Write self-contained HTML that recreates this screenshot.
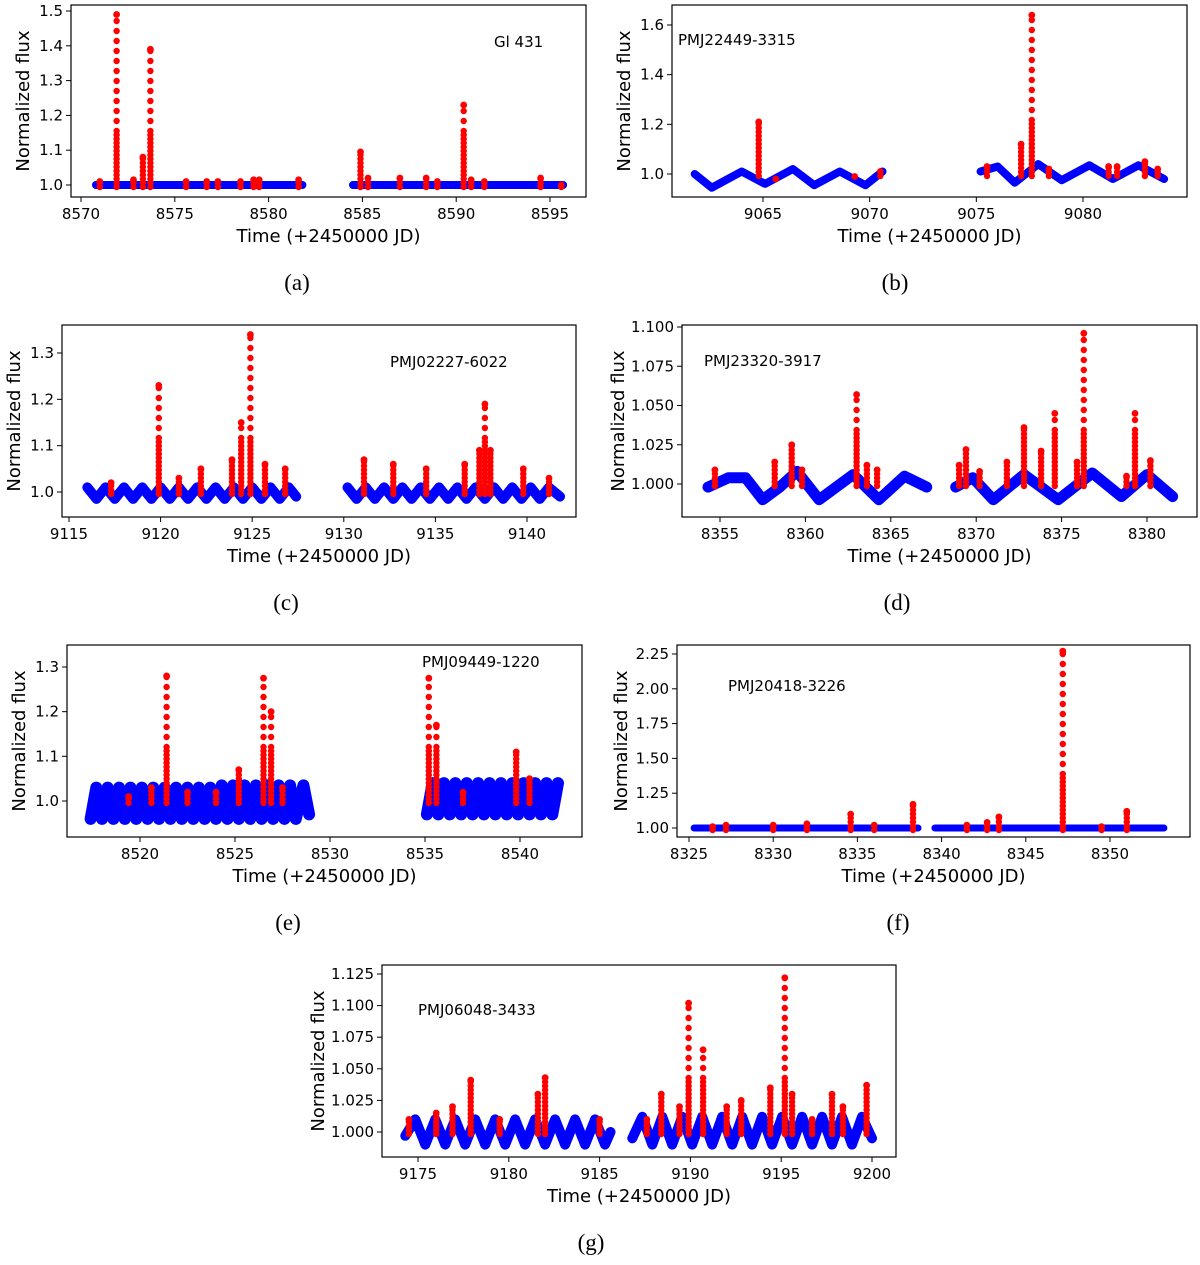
<!DOCTYPE html>
<html><head><meta charset="utf-8"><style>
body{margin:0;background:#fff;width:1200px;height:1260px;overflow:hidden}
svg text{font-family:"DejaVu Sans","Liberation Sans",sans-serif}
</style></head><body>
<svg id="fig" width="1200" height="1260" xmlns="http://www.w3.org/2000/svg"></svg>
<script>
// ---- data ----
const aFlares=[[8571.9,1.49],[8573.3,1.08],[8573.7,1.39],[8584.9,1.095],[8590.4,1.23],[8571,1.01],[8572.8,1.015],[8575.6,1.01],[8576.7,1.01],[8577.3,1.01],[8578.5,1.01],[8579.2,1.015],[8579.5,1.015],[8581.6,1.015],[8585.3,1.02],[8587,1.02],[8588.4,1.02],[8589,1.01],[8590.8,1.015],[8591.5,1.01],[8594.5,1.02],[8595.6,1.0]];
const aBlueT=[8570.8,8581.8,null,8584.5,8595.7];
const aBlueV=[1.0,1.0,null,1.0,1.0];
const bFlares=[[9064.8,1.21],[9077.6,1.64],[9075.5,1.03],[9077.1,1.12],[9078.4,1.02],[9081.2,1.03],[9081.6,1.03],[9082.9,1.05],[9083.5,1.02],[9069.3,0.99],[9065.6,0.98],[9070.5,1.01]];
const bBlueT=[9061.8,9062.6,9064.0,9065.1,9066.4,9067.4,9068.6,9069.8,9070.6,null,9075.2,9076.0,9076.8,9077.9,9079.0,9080.3,9081.4,9082.6,9083.8];
const bBlueV=[1.0,0.945,1.01,0.96,1.02,0.955,1.01,0.955,1.01,null,1.01,1.03,0.965,1.04,0.975,1.035,0.98,1.035,0.98];
const cFlares=[[9117.3,1.02],[9119.9,1.23],[9121,1.03],[9122.2,1.05],[9123.9,1.07],[9124.4,1.15],[9124.9,1.34],[9125.7,1.06],[9126.8,1.05],[9131.1,1.07],[9132.7,1.06],[9134.5,1.05],[9136.6,1.06],[9137.4,1.09],[9137.7,1.19],[9138,1.09],[9139.8,1.05],[9141.2,1.03]];
const cBlueT=[9116,9116.5,9117,9117.5,9118,9118.5,9119,9119.5,9120,9120.5,9121,9121.5,9122,9122.5,9123,9123.5,9124,9124.5,9125,9125.5,9126,9126.5,9127,9127.4,null,9130.2,9130.7,9131.2,9131.7,9132.2,9132.7,9133.2,9133.7,9134.2,9134.7,9135.2,9135.7,9136.2,9136.7,9137.2,9137.7,9138.2,9138.7,9139.2,9139.7,9140.2,9140.7,9141.2,9141.8];
const cBlueV=[1.01,0.985,1.01,0.985,1.01,0.985,1.01,0.985,1.01,0.985,1.01,0.985,1.01,0.985,1.01,0.985,1.01,0.985,1.01,0.985,1.01,0.985,1.01,0.99,null,1.01,0.985,1.01,0.985,1.01,0.985,1.01,0.985,1.01,0.985,1.01,0.985,1.01,0.985,1.01,0.985,1.01,0.985,1.01,0.985,1.01,0.985,1.01,0.99];
const dFlares=[[8354.7,1.009],[8358.2,1.014],[8359.2,1.025],[8359.8,1.009],[8363,1.057],[8363.6,1.012],[8364.2,1.009],[8369,1.012],[8369.4,1.022],[8370.2,1.008],[8371.8,1.014],[8372.8,1.036],[8373.8,1.021],[8374.6,1.045],[8375.9,1.014],[8376.3,1.096],[8378.8,1.005],[8379.3,1.045],[8380.2,1.015]];
const dBlueT=[8354.3,8355.5,8356.5,8357.5,8358.5,8359.5,8360.8,8362.8,8364.3,8365.8,8367.1,null,8368.8,8369.8,8371,8372.8,8374.8,8376.8,8378.5,8380,8381.5];
const dBlueV=[0.998,1.004,1.004,0.99,0.998,1.008,0.99,1.006,0.99,1.005,0.998,null,0.998,1.004,0.99,1.006,0.99,1.007,0.992,1.006,0.992];
const eFlares=[[8519.4,1.01],[8520.6,1.03],[8521.4,1.28],[8522.5,1.02],[8524,1.02],[8525.2,1.07],[8526.5,1.275],[8526.9,1.2],[8527.5,1.03],[8535.2,1.275],[8535.6,1.17],[8537,1.02],[8539.8,1.11],[8540.5,1.05]];
const eBlueT=[8517.4,8517.7,8518,8518.3,8518.6,8518.9,8519.2,8519.5,8519.8,8520.1,8520.4,8520.7,8521,8521.3,8521.6,8521.9,8522.2,8522.5,8522.8,8523.1,8523.4,8523.7,8524,8524.3,8524.6,8524.9,8525.2,8525.5,8525.8,8526.1,8526.4,8526.7,8527,8527.3,8527.6,8527.9,8528.2,8528.6,8528.9,null,8535.1,8535.4,8535.7,8536,8536.3,8536.6,8536.9,8537.2,8537.5,8537.8,8538.1,8538.4,8538.7,8539,8539.3,8539.6,8539.9,8540.2,8540.5,8540.8,8541.1,8541.4,8541.7,8542];
const eBlueV=[0.96,1.03,0.96,1.03,0.96,1.03,0.96,1.03,0.96,1.03,0.96,1.03,0.96,1.03,0.96,1.03,0.96,1.03,0.96,1.03,0.96,1.03,0.96,1.035,0.96,1.035,0.96,1.035,0.96,1.035,0.96,1.035,0.96,1.035,0.96,1.035,0.96,1.035,0.97,null,0.97,1.04,0.97,1.04,0.97,1.04,0.97,1.04,0.97,1.04,0.97,1.04,0.97,1.04,0.97,1.04,0.97,1.04,0.97,1.04,0.97,1.04,0.97,1.04,0.98];
const fFlares=[[8347.2,2.27],[8338.3,1.17],[8334.6,1.1],[8343.4,1.08],[8351,1.12],[8326.4,1.01],[8327.2,1.02],[8330,1.02],[8332,1.03],[8336,1.02],[8341.5,1.02],[8342.7,1.04],[8349.5,1.01]];
const fBlueT=[8325.3,8338.6,null,8339.6,8353.2];
const fBlueV=[1.0,1.0,null,1.0,1.0];
const gFlares=[[9174.5,1.01],[9176,1.015],[9176.9,1.02],[9177.9,1.041],[9179.5,1.01],[9181.6,1.03],[9182,1.043],[9185,1.01],[9187.6,1.01],[9188.4,1.03],[9189.4,1.02],[9189.9,1.102],[9190.7,1.065],[9192,1.02],[9192.8,1.025],[9194.4,1.035],[9195.2,1.122],[9195.6,1.03],[9196.7,1.01],[9197.8,1.03],[9198.4,1.02],[9199.7,1.037]];
const gBlueT=[9174.3,9174.85,9175.4,9175.95,9176.5,9177.05,9177.6,9178.15,9178.7,9179.25,9179.8,9180.35,9180.9,9181.45,9182,9182.55,9183.1,9183.65,9184.2,9184.75,9185.3,9185.6,null,9186.8,9187.35,9187.9,9188.45,9189,9189.55,9190.1,9190.65,9191.2,9191.75,9192.3,9192.85,9193.4,9193.95,9194.5,9195.05,9195.6,9196.15,9196.7,9197.25,9197.8,9198.35,9198.9,9199.45,9200];
const gBlueV=[0.997,1.01,0.99,1.01,0.99,1.01,0.99,1.01,0.99,1.01,0.99,1.01,0.99,1.01,0.99,1.01,0.99,1.01,0.99,1.01,0.99,1.0,null,0.995,1.012,0.99,1.012,0.99,1.012,0.99,1.012,0.99,1.012,0.99,1.012,0.99,1.012,0.99,1.012,0.99,1.012,0.99,1.012,0.99,1.012,0.99,1.012,0.995];
const aXTicks=[8570,8575,8580,8585,8590,8595], aYTicks=[1.0,1.1,1.2,1.3,1.4,1.5];
const bXTicks=[9065,9070,9075,9080], bYTicks=[1.0,1.2,1.4,1.6];
const cXTicks=[9115,9120,9125,9130,9135,9140], cYTicks=[1.0,1.1,1.2,1.3];
const dXTicks=[8355,8360,8365,8370,8375,8380], dYTicks=[1.0,1.025,1.05,1.075,1.1];
const eXTicks=[8520,8525,8530,8535,8540], eYTicks=[1.0,1.1,1.2,1.3];
const fXTicks=[8325,8330,8335,8340,8345,8350], fYTicks=[1.0,1.25,1.5,1.75,2.0,2.25];
const gXTicks=[9175,9180,9185,9190,9195,9200], gYTicks=[1.0,1.025,1.05,1.075,1.1,1.125];

const NS='http://www.w3.org/2000/svg';
const svg=document.getElementById('fig');
function mk(tag,attrs,parent){const e=document.createElementNS(NS,tag);for(const k in attrs)e.setAttribute(k,attrs[k]);(parent||svg).appendChild(e);return e;}

const panels=[
 {id:'a',box:[71,5,586,197],x:[8570,81,8595,550],y:[1.0,185,1.5,11],xt:aXTicks,yt:aYTicks,dec:1,bt:aBlueT,bv:aBlueV,bw:8,fl:aFlares,label:'Gl 431',lx:494,ly:47,cap:'(a)',cx:297,cy:290},
 {id:'b',box:[672,5,1187,197],x:[9065,763,9080,1083],y:[1.0,174,1.6,25],xt:bXTicks,yt:bYTicks,dec:1,bt:bBlueT,bv:bBlueV,bw:8,fl:bFlares,label:'PMJ22449-3315',lx:678,ly:45,cap:'(b)',cx:895,cy:290},
 {id:'c',box:[62,325,576,517],x:[9115,69,9140,527],y:[1.0,492,1.3,353],xt:cXTicks,yt:cYTicks,dec:1,bt:cBlueT,bv:cBlueV,bw:10,fl:cFlares,label:'PMJ02227-6022',lx:390,ly:367,cap:'(c)',cx:286,cy:610},
 {id:'d',box:[682,325,1197,517],x:[8355,720,8380,1147],y:[1.0,484,1.1,327],xt:dXTicks,yt:dYTicks,dec:3,bt:dBlueT,bv:dBlueV,bw:11,fl:dFlares,label:'PMJ23320-3917',lx:704,ly:366,cap:'(d)',cx:897,cy:610},
 {id:'e',box:[67,645,582,837],x:[8520,140,8540,520],y:[1.0,801,1.3,667],xt:eXTicks,yt:eYTicks,dec:1,bt:eBlueT,bv:eBlueV,bw:12,fl:eFlares,label:'PMJ09449-1220',lx:422,ly:667,cap:'(e)',cx:288,cy:930},
 {id:'f',box:[677,645,1190,837],x:[8325,689,8350,1110],y:[1.0,828,2.25,654],xt:fXTicks,yt:fYTicks,dec:2,bt:fBlueT,bv:fBlueV,bw:7,fl:fFlares,label:'PMJ20418-3226',lx:728,ly:691,cap:'(f)',cx:898,cy:930},
 {id:'g',box:[382,965,896,1157],x:[9175,418,9200,872],y:[1.0,1132,1.125,974],xt:gXTicks,yt:gYTicks,dec:3,bt:gBlueT,bv:gBlueV,bw:10,fl:gFlares,label:'PMJ06048-3433',lx:418,ly:1015,cap:'(g)',cx:591,cy:1250}
];

panels.forEach(p=>{
 const X=t=>p.x[1]+(t-p.x[0])*(p.x[3]-p.x[1])/(p.x[2]-p.x[0]);
 const Y=v=>p.y[1]+(v-p.y[0])*(p.y[3]-p.y[1])/(p.y[2]-p.y[0]);
 const [L,T,R,B]=p.box;
 const g=mk('g',{});
 
 
 let segs=[[]];
 p.bt.forEach((t,i)=>{if(t===null){segs.push([]);}else segs[segs.length-1].push(X(t).toFixed(1)+','+Y(p.bv[i]).toFixed(1));});
 segs.forEach(s=>{const pl=mk('polyline',{points:s.join(' '),fill:'none',stroke:'#0000ff','stroke-width':p.bw,'stroke-linejoin':'round','stroke-linecap':'round'},g);
  
  });
 p.fl.forEach(f=>{
  const fg=mk('g',{fill:'#ff0000'},g);
  
  
  const x=X(f[0]), top=Y(f[1]), base=Y(p.y[0]);
  for(let yy=base+2; yy>=top; yy-=(base-yy>50?10:4)) mk('circle',{cx:x.toFixed(1),cy:yy.toFixed(1),r:3.2},fg);
  mk('circle',{cx:x.toFixed(1),cy:top.toFixed(1),r:3.4},fg);
 });
 const bx=mk('rect',{x:L,y:T,width:R-L,height:B-T,fill:'none',stroke:'#000','stroke-width':1.2},g);
 
 
 p.xt.forEach(t=>{const x=X(t);mk('line',{x1:x,x2:x,y1:B,y2:B+5,stroke:'#000'},g);
  const tx=mk('text',{x:x,y:B+22,'font-size':15,'text-anchor':'middle'},g);tx.textContent=t;
  
  });
 p.yt.forEach(v=>{const y=Y(v);mk('line',{x1:L-5,x2:L,y1:y,y2:y,stroke:'#000'},g);
  const tx=mk('text',{x:L-8,y:y+5,'font-size':15,'text-anchor':'end'},g);tx.textContent=v.toFixed(p.dec);
  
  });
 const xl=mk('text',{x:(L+R)/2,y:B+45,'font-size':18,'text-anchor':'middle'},g);xl.textContent='Time (+2450000 JD)';
 
 
 const yx=L-(p.dec===1?42:p.dec===2?50:58), yc=(T+B)/2;
 const yl=mk('text',{x:yx,y:yc,'font-size':18,'text-anchor':'middle',transform:`rotate(-90 ${yx} ${yc})`},g);yl.textContent='Normalized flux';
 
 
 const lb=mk('text',{x:p.lx,y:p.ly,'font-size':15},g);lb.textContent=p.label;
 
 
 const cp=mk('text',{x:p.cx,y:p.cy,'font-size':23,'text-anchor':'middle',style:'font-family:"Liberation Serif",serif'},g);cp.textContent=p.cap;
 
 
});
</script>
</body></html>
